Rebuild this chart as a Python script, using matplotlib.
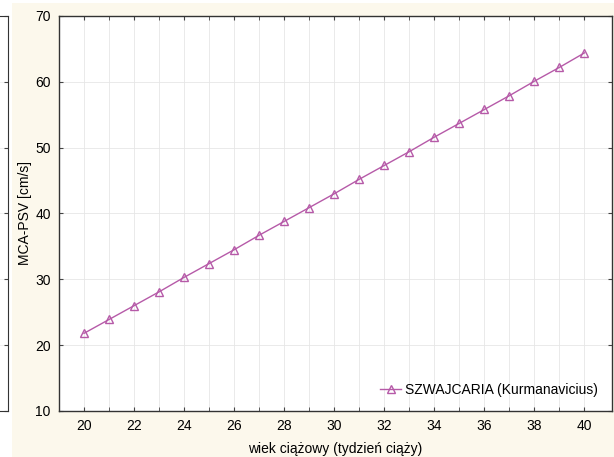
import numpy as np
import matplotlib.pyplot as plt
from matplotlib.patches import Rectangle

plt.rcParams['font.family'] = ['Liberation Sans', 'DejaVu Sans']

# MCA-PSV median by gestational week (Kurmanavicius)
weeks = [20, 21, 22, 23, 24, 25, 26, 27, 28, 29, 30,
         31, 32, 33, 34, 35, 36, 37, 38, 39, 40]
psv = [21.8, 23.9, 26.0, 28.1, 30.3, 32.4, 34.5, 36.7, 38.8, 40.9, 43.0,
       45.2, 47.3, 49.4, 51.6, 53.7, 55.8, 57.9, 60.1, 62.2, 64.4]
series_label = 'SZWAJCARIA (Kurmanavicius)'
x_ticks = [20, 22, 24, 26, 28, 30, 32, 34, 36, 38, 40]
y_ticks = [10, 20, 30, 40, 50, 60, 70]

W, H = 614, 457
cream = '#fcf8ec'
line_col = '#b65aa8'

fig = plt.figure(figsize=(W / 100, H / 100), dpi=100, facecolor=cream)

# white strip with the edge of the neighbouring panel
fig.patches.append(Rectangle((0, 0), 12 / W, 1, transform=fig.transFigure,
                             facecolor='white', edgecolor='none', zorder=-5))
fig.patches.append(Rectangle((0, 1 - 3 / H), 1, 3 / H, transform=fig.transFigure,
                             facecolor='white', edgecolor='none', zorder=-5))
edge = fig.add_axes([-0.2, 1 - 411 / H, 0.2 + 8 / W, (411 - 16) / H])
edge.set_zorder(-1)
edge.set_facecolor('white')
edge.set_ylim(10, 70)
edge.set_yticks(y_ticks)
edge.yaxis.tick_right()
edge.tick_params(axis='y', direction='in', length=3, labelright=False, color='#444444')
edge.set_xticks([])
edge.spines['left'].set_visible(False)
for s in ['right', 'top', 'bottom']:
    edge.spines[s].set_color('#333333')
edge.grid(axis='y', color='#eeeeee', lw=0.6)

ax = fig.add_axes([59 / W, 1 - 411 / H, (612 - 59) / W, (411 - 16) / H])
ax.set_facecolor('white')
ax.plot(weeks, psv, color=line_col, lw=1.0, marker='^', markersize=5.5,
        markerfacecolor='none', markeredgecolor=line_col, markeredgewidth=1.0,
        label=series_label)

ax.set_xlim(19, 41.1)
ax.set_ylim(10, 70)
ax.set_xticks(x_ticks)
ax.set_xticks(weeks, minor=True)
ax.set_yticks(y_ticks)
ax.tick_params(which='both', direction='in', length=3, top=True, right=True,
               labelsize=10, color='#444444', pad=6)
ax.grid(which='both', axis='x', color='#e6e6e6', lw=0.6)
ax.grid(which='major', axis='y', color='#e6e6e6', lw=0.6)
ax.set_axisbelow(True)
for s in ax.spines.values():
    s.set_color('#333333')
    s.set_linewidth(1.0)

ax.set_xlabel('wiek ciążowy (tydzień ciąży)', fontsize=10, labelpad=6)
ax.set_ylabel('MCA-PSV [cm/s]', fontsize=10, labelpad=2)

ax.legend(loc='lower right', frameon=False, fontsize=10, handlelength=1.5,
          borderaxespad=0.6, handletextpad=0.3)

fig.savefig('out.png', dpi=100, facecolor=cream)
